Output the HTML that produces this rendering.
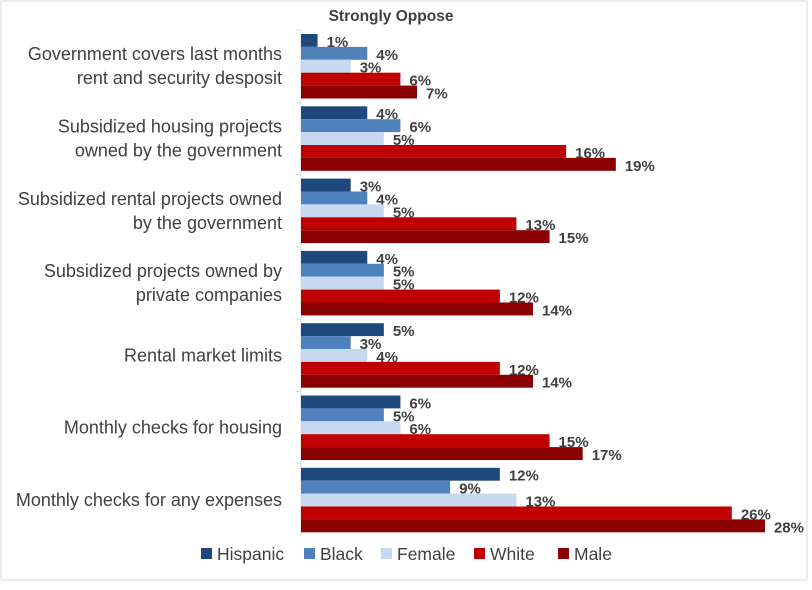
<!DOCTYPE html>
<html><head><meta charset="utf-8"><style>
body{margin:0;background:#fff;}
#c{position:relative;width:812px;height:585px;font-family:"Liberation Sans",sans-serif;}
</style></head><body>
<div id="c">
<svg id="s" width="812" height="585">
<rect x="1" y="1" width="806" height="579" fill="#fff" stroke="#d9d9d9"/>
<text x="391" y="21" text-anchor="middle" font-size="15.5" font-weight="bold" fill="#404040">Strongly Oppose</text>
</svg>
</div>
<script>
const categories=["Government covers last months|rent and security desposit","Subsidized housing projects|owned by the government","Subsidized rental projects owned|by the government","Subsidized projects owned by|private companies","Rental market limits","Monthly checks for housing","Monthly checks for any expenses"];
const seriesNames=["Hispanic","Black","Female","White","Male"];
const hispanic=[1,4,3,4,5,6,12];
const black=[4,6,4,5,3,5,9];
const female=[3,5,5,5,4,6,13];
const white=[6,16,13,12,12,15,26];
const male=[7,19,15,14,14,17,28];
const series=[hispanic,black,female,white,male];
const colors=["#1f497d","#4f81bd","#c6d9f1","#c00000","#8b0000"];
const svg=document.getElementById('s');const NS="http://www.w3.org/2000/svg";
const x0=301,pxPer=16.57,top0=30,gH=72.3,barH=12.9;
const xs=v=>x0+v*pxPer;
function mk(t,a){const e=document.createElementNS(NS,t);for(const k in a)e.setAttribute(k,a[k]);svg.appendChild(e);return e;}
const ax=mk('line',{x1:x0,y1:top0,x2:x0,y2:top0+gH*7,stroke:'#d9d9d9'});


categories.forEach((c,i)=>{
 const gy=top0+i*gH;
 const tk=mk('line',{x1:x0-5,y1:gy,x2:x0,y2:gy,stroke:'#d9d9d9'});
 
 
 const lines=c.split('|');const cy=gy+gH/2;
 lines.forEach((l,j)=>{
  const t=mk('text',{x:282,y:cy+6+(j-(lines.length-1)/2)*24,'text-anchor':'end','font-size':'18',fill:'#404040'});
  t.textContent=l;
  
  
 });
 series.forEach((s,k)=>{
  const y=gy+4+k*barH;
  const r=mk('rect',{x:x0,y:y,width:xs(s[i])-x0,height:barH,fill:colors[k]});
  
  
  const t=mk('text',{x:xs(s[i])+9,y:y+barH,'font-size':'15','font-weight':'bold',fill:'#404040'});
  t.textContent=s[i]+'%';
  
  
 });
});
const lx=[201,304,381,474,558];
seriesNames.forEach((n,k)=>{
 const r=mk('rect',{x:lx[k],y:548,width:11,height:11,fill:colors[k]});
 
 
 const t=mk('text',{x:lx[k]+16,y:560,'font-size':'17.5',fill:'#404040'});
 t.textContent=n;
 
 
});
</script>
</body></html>
